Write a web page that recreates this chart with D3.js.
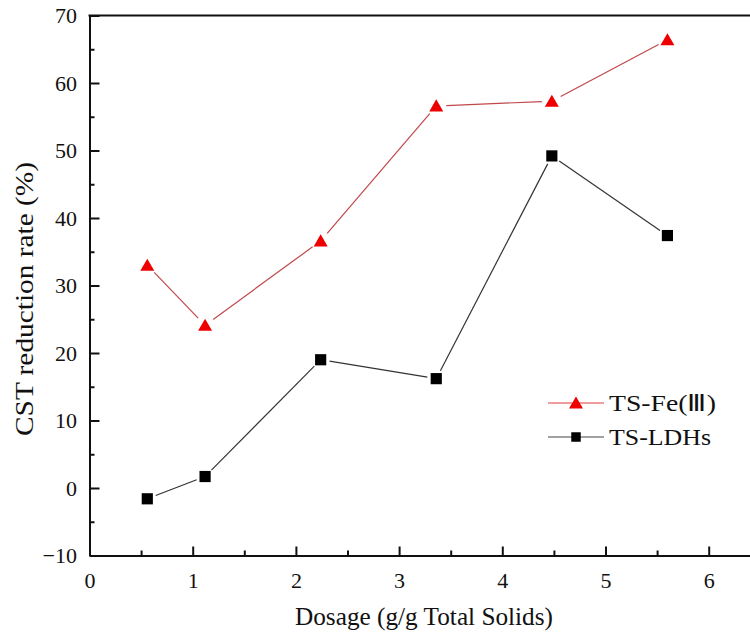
<!DOCTYPE html>
<html>
<head>
<meta charset="utf-8">
<script src="https://cdn.jsdelivr.net/npm/d3@7"></script>
<style>
  html, body { margin: 0; padding: 0; background: #fff; }
  svg { display: block; }
  text { font-family: "Liberation Serif", "Times New Roman", serif; fill: #111; }
</style>
</head>
<body>
<svg id="chart" width="750" height="633"></svg>
<script>
// Dosage (g/g total solids) and CST reduction rate (%) per coagulant
const dosage = [0.56, 1.12, 2.24, 3.36, 4.48, 5.6];
const feValues = [33.0, 24.1, 36.6, 56.6, 57.3, 66.4];
const ldhValues = [-1.6, 1.7, 19.0, 16.2, 49.2, 37.4];
const seriesNames = ["TS-Fe(Ⅲ)", "TS-LDHs"];
const xTicks = [0, 1, 2, 3, 4, 5, 6];
const yTicks = [-10, 0, 10, 20, 30, 40, 50, 60, 70];

const svg = d3.select("#chart");
const plotLeft = 89.5, plotRight = 760.3, plotTop = 15.5, plotBottom = 555.5;

const x = d3.scaleLinear().domain([0, 6.5]).range([plotLeft, plotRight]);
const y = d3.scaleLinear().domain([-10, 70]).range([plotBottom, plotTop]);

// minor ticks at half steps
const xMinor = d3.range(0.5, 6.5, 1);
const yMinor = d3.range(-5, 70, 10);

const axisColor = "#111";
const serif = "'Liberation Serif', 'Times New Roman', serif";

// Bottom axis: major + minor ticks pointing inward
const gx = svg.append("g").attr("transform", `translate(0,${plotBottom})`);
gx.call(d3.axisBottom(x).tickValues(xTicks).tickSizeInner(-9).tickSizeOuter(0).tickPadding(17).tickFormat(d3.format("d")));
gx.append("g").call(d3.axisBottom(x).tickValues(xMinor).tickSizeInner(-5).tickSizeOuter(0).tickFormat(""));
gx.attr("font-family", serif).attr("font-size", 22);
gx.selectAll("g").attr("font-family", serif);
gx.selectAll(".domain").attr("stroke", axisColor).attr("stroke-width", 2);
gx.selectAll(".tick line").attr("stroke", axisColor).attr("stroke-width", 2);
gx.selectAll(".tick text").attr("font-size", 22).attr("fill", "#111").style("font-family", serif);

// Left axis
const gy = svg.append("g").attr("transform", `translate(${plotLeft},0)`);
gy.call(d3.axisLeft(y).tickValues(yTicks).tickSizeInner(-10).tickSizeOuter(0).tickPadding(12.5)
  .tickFormat(d => d < 0 ? "\u2212" + Math.abs(d) : d));
gy.append("g").call(d3.axisLeft(y).tickValues(yMinor).tickSizeInner(-5).tickSizeOuter(0).tickFormat(""));
gy.attr("font-family", serif).attr("font-size", 22);
gy.selectAll("g").attr("font-family", serif);
gy.selectAll(".domain").attr("stroke", axisColor).attr("stroke-width", 2);
gy.selectAll(".tick line").attr("stroke", axisColor).attr("stroke-width", 2);
gy.selectAll(".tick text").attr("font-size", 22).attr("fill", "#111").style("font-family", serif);

// Top frame line
svg.append("line")
  .attr("x1", plotLeft - 1).attr("x2", plotRight)
  .attr("y1", plotTop).attr("y2", plotTop)
  .attr("stroke", axisColor).attr("stroke-width", 2);

// Axis titles
svg.append("text")
  .attr("x", 295).attr("y", 625)
  .attr("font-size", 24.5)
  .attr("textLength", 258).attr("lengthAdjust", "spacingAndGlyphs")
  .text("Dosage (g/g Total Solids)");

svg.append("text")
  .attr("transform", "translate(33,436) rotate(-90)")
  .attr("font-size", 26)
  .attr("textLength", 274).attr("lengthAdjust", "spacingAndGlyphs")
  .text("CST reduction rate (%)");

// Connect consecutive points with segments that stop short of each marker
function drawSegments(values, color, gap) {
  const pts = dosage.map((d, i) => [x(d), y(values[i])]);
  const segs = d3.pairs(pts).map(([a, b]) => {
    const dx = b[0] - a[0], dy = b[1] - a[1];
    const len = Math.hypot(dx, dy);
    const ux = dx / len, uy = dy / len;
    return [a[0] + ux * gap, a[1] + uy * gap, b[0] - ux * gap, b[1] - uy * gap];
  });
  svg.append("g").selectAll("line").data(segs).join("line")
    .attr("x1", d => d[0]).attr("y1", d => d[1])
    .attr("x2", d => d[2]).attr("y2", d => d[3])
    .attr("stroke", color).attr("stroke-width", 1.2);
}

drawSegments(feValues, "#c0474a", 10);
drawSegments(ldhValues, "#333", 9);

const triangle = d3.symbol().type(d3.symbolTriangle).size(85);
const square = d3.symbol().type(d3.symbolSquare).size(125);

// Triangles are shifted so their bounding box is centred on the value
svg.append("g").selectAll("path").data(feValues).join("path")
  .attr("d", triangle)
  .attr("transform", (d, i) => `translate(${x(dosage[i])},${y(d) + 1.5})`)
  .attr("fill", "#ee0000");

svg.append("g").selectAll("path").data(ldhValues).join("path")
  .attr("d", square)
  .attr("transform", (d, i) => `translate(${x(dosage[i])},${y(d)})`)
  .attr("fill", "#000");

// Legend
const legend = svg.append("g");
const legendRows = [
  { name: seriesNames[0], width: 107, color: "#e03a3a", symbol: triangle, fill: "#ee0000", dy: 1.5 },
  { name: seriesNames[1], width: 102, color: "#444", symbol: d3.symbol().type(d3.symbolSquare).size(90), fill: "#000", dy: 0 }
];
legendRows.forEach((r, i) => {
  const cy = 403 + i * 34;
  legend.append("line").attr("x1", 548).attr("x2", 604).attr("y1", cy).attr("y2", cy)
    .attr("stroke", r.color).attr("stroke-width", 1.2);
  legend.append("path").attr("d", r.symbol).attr("transform", `translate(576,${cy + r.dy})`).attr("fill", r.fill);
  legend.append("text").attr("x", 609).attr("y", cy + 8).attr("font-size", 23)
    .attr("textLength", r.width).attr("lengthAdjust", "spacingAndGlyphs")
    .text(r.name);
});
</script>
</body>
</html>
